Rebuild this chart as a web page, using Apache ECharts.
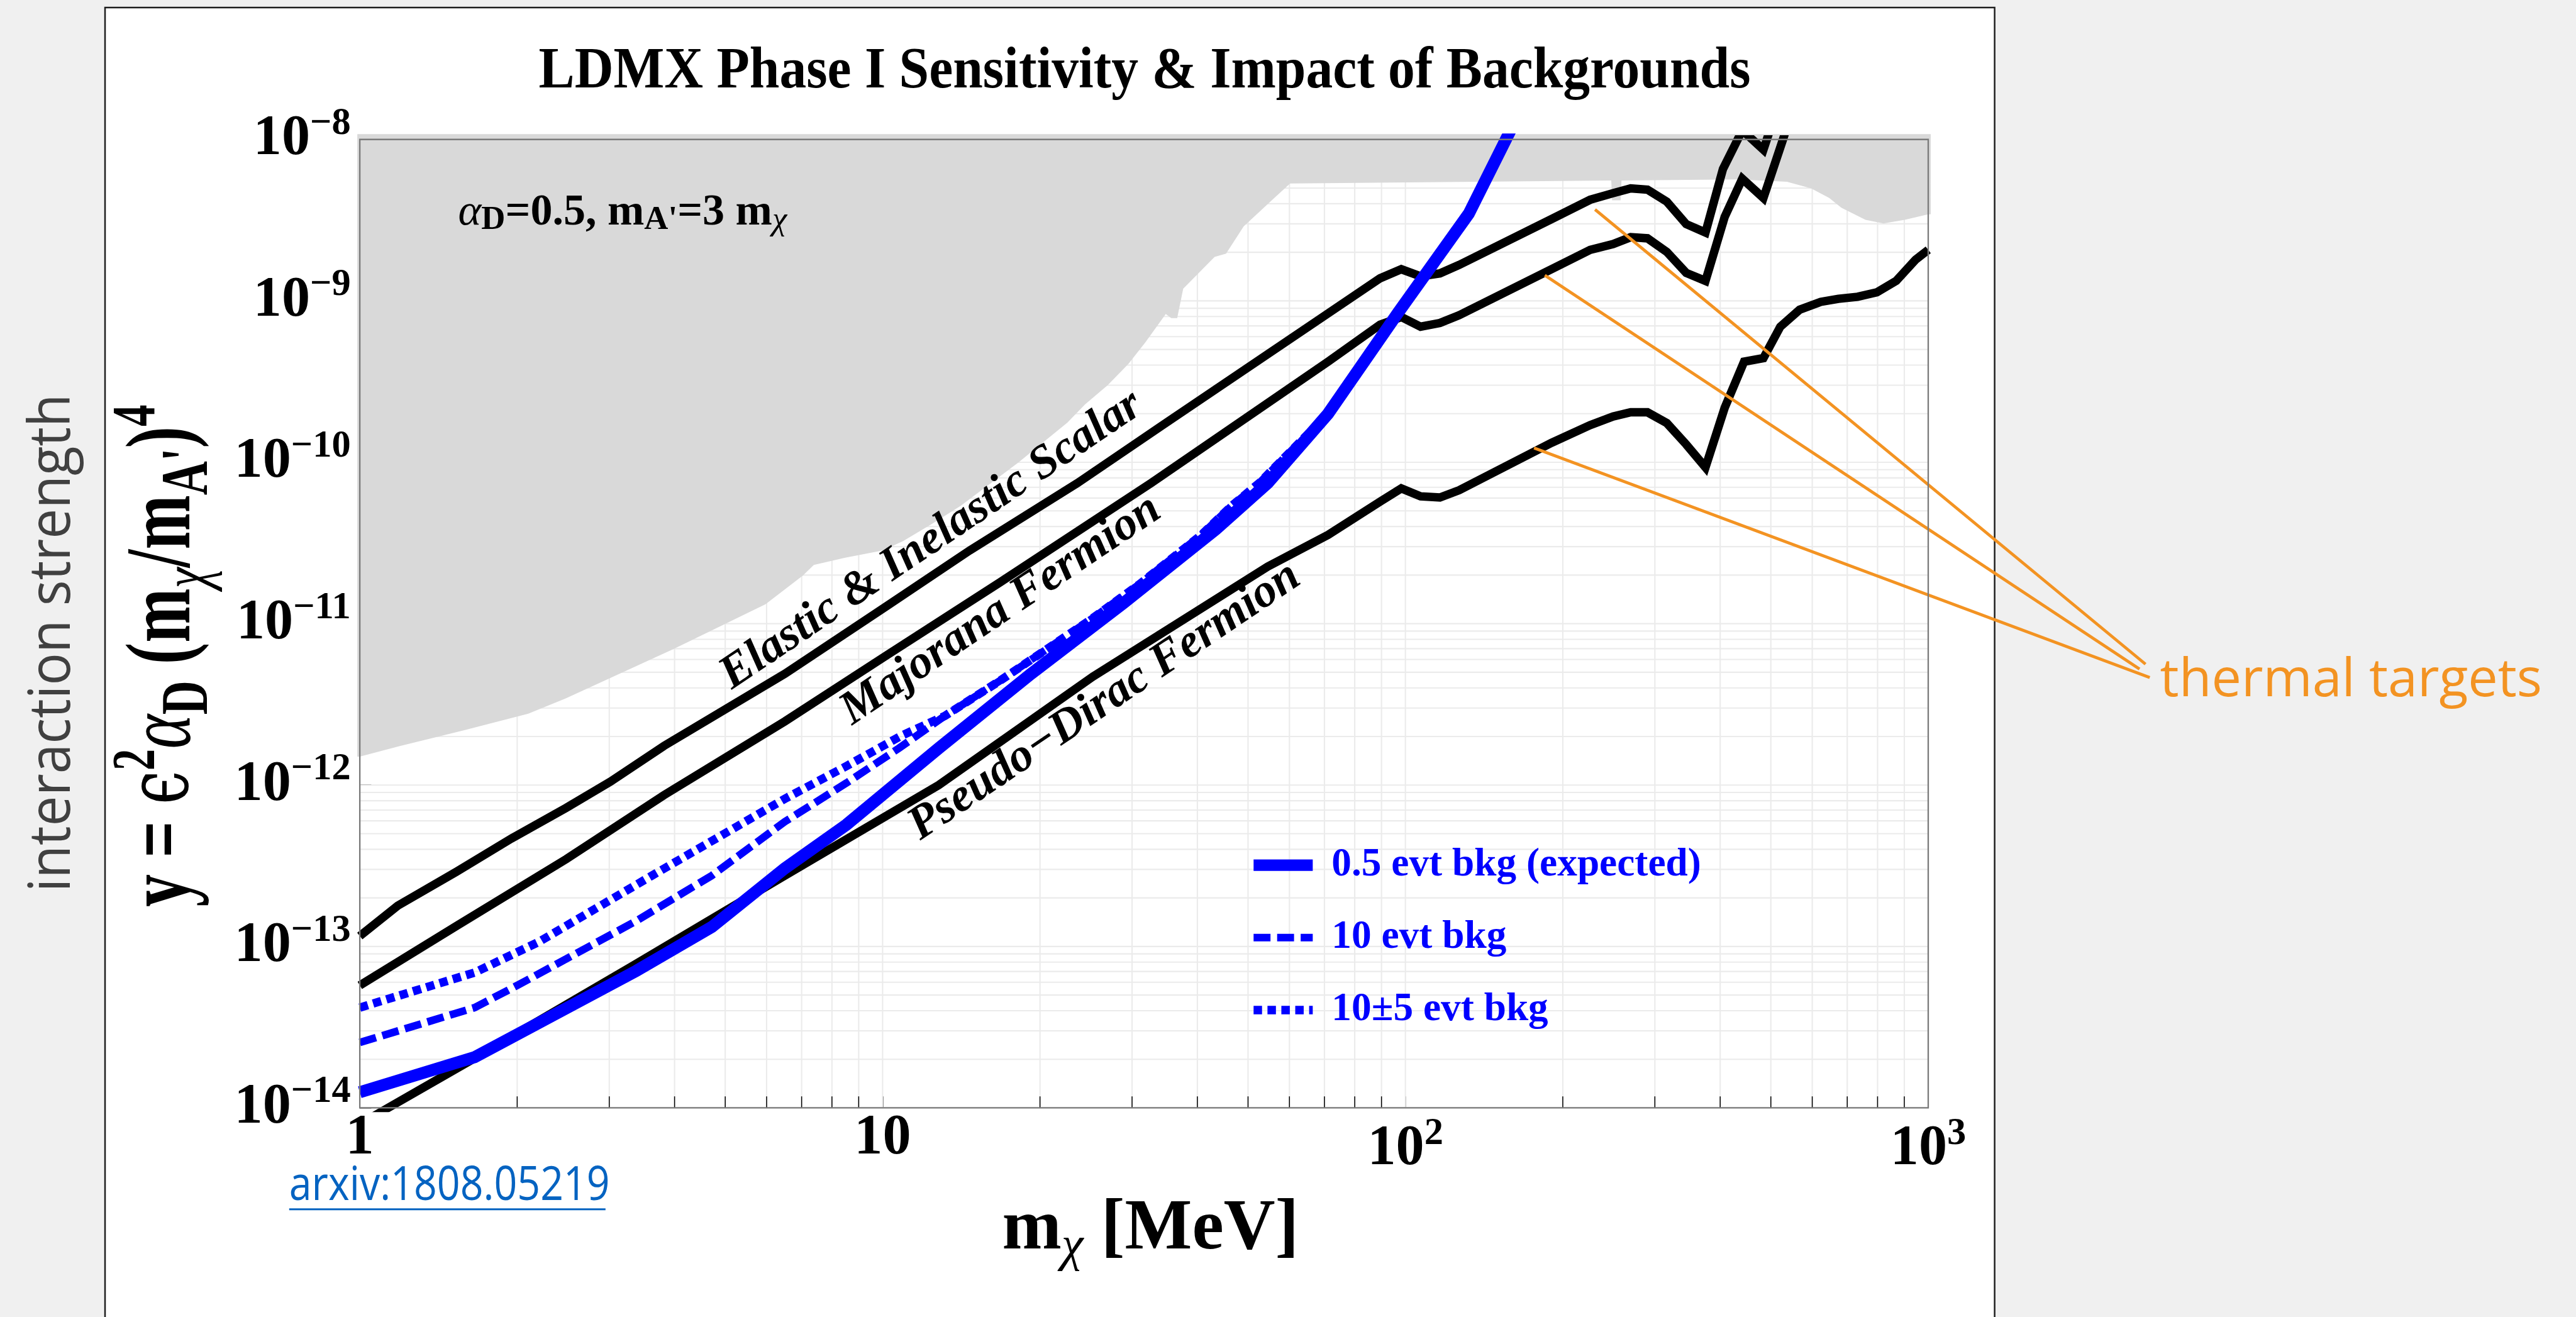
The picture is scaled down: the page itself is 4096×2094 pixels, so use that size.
<!DOCTYPE html>
<html>
<head>
<meta charset="utf-8">
<title>LDMX Phase I Sensitivity &amp; Impact of Backgrounds</title>
<script src="https://cdn.jsdelivr.net/npm/echarts@6/dist/echarts.min.js"></script>
<style>
html, body { margin: 0; padding: 0; background: #f0f0f0; }
#chart { width: 4096px; height: 2094px; }
</style>
</head>
<body>
<div id="chart"></div>
<script>
// ---- data: x = m_chi [MeV], y = eps^2 alpha_D (m_chi/m_A')^4 ----
const elasticScalar = [
  [1, 1.16e-13], [1.182, 1.79e-13], [1.530, 2.90e-13], [1.949, 4.66e-13], [2.483, 7.23e-13],
  [3.015, 1.05e-12], [3.820, 1.75e-12], [6.501, 4.89e-12], [10.16, 1.28e-11], [14.67, 2.84e-11],
  [23.60, 7.44e-11], [34.25, 1.69e-10], [71.14, 8.37e-10], [89.43, 1.38e-9], [98.2, 1.57e-9],
  [106.9, 1.42e-9], [116.4, 1.48e-9], [126.7, 1.67e-9], [190.3, 3.21e-9], [225.6, 4.23e-9],
  [249.6, 4.65e-9], [269.7, 4.98e-9], [290.4, 4.89e-9], [316.2, 4.12e-9], [344.4, 2.99e-9],
  [374.9, 2.65e-9], [404.9, 6.56e-9], [440.9, 1.14e-8], [483.9, 8.64e-9], [526.9, 1.98e-8]
];
const majoranaFermion = [
  [1, 5.74e-14], [1.543, 1.36e-13], [2.483, 3.48e-13], [3.820, 8.67e-13], [6.501, 2.48e-12],
  [10.16, 6.34e-12], [16.80, 1.81e-11], [32.65, 7.44e-11], [71.14, 4.20e-10], [89.43, 7.11e-10],
  [98.2, 7.94e-10], [106.9, 6.92e-10], [116.4, 7.29e-10], [126.7, 8.15e-10], [190.3, 1.57e-9],
  [225.6, 2.07e-9], [249.6, 2.25e-9], [269.7, 2.48e-9], [290.4, 2.44e-9], [316.2, 2.01e-9],
  [344.4, 1.49e-9], [374.9, 1.33e-9], [408.1, 3.32e-9], [440.9, 5.71e-9], [483.9, 4.34e-9],
  [526.9, 9.91e-9], [558.6, 1.77e-8]
];
const pseudoDiracFermion = [
  [1, 7.93e-15], [1.618, 1.94e-14], [3.336, 7.63e-14], [6.501, 2.75e-13], [12.80, 1.00e-12],
  [25.22, 4.69e-12], [54.54, 2.26e-11], [71.14, 3.55e-11], [89.43, 5.70e-11], [98.2, 6.89e-11],
  [106.9, 6.15e-11], [116.4, 6.05e-11], [126.7, 6.71e-11], [190.3, 1.32e-10], [225.6, 1.70e-10],
  [249.6, 1.92e-10], [269.7, 2.04e-10], [290.4, 2.04e-10], [316.2, 1.75e-10], [344.4, 1.29e-10],
  [374.9, 9.3e-11], [408.1, 2.18e-10], [444.4, 4.20e-10], [483.9, 4.42e-10], [521.3, 6.92e-10],
  [567.6, 8.81e-10], [622.9, 9.86e-10], [673.0, 1.03e-9], [732.6, 1.06e-9], [797.7, 1.13e-9],
  [868.6, 1.33e-9], [945.7, 1.80e-9], [1000, 2.07e-9]
];
const bkgExpected = [
  [1, 1.25e-14], [1.658, 2.06e-14], [3.380, 7.06e-14], [4.713, 1.32e-13], [6.501, 3.05e-13],
  [8.526, 5.68e-13], [12.80, 1.69e-12], [19.23, 4.89e-12], [28.89, 1.34e-11], [43.39, 3.84e-11],
  [54.54, 7.44e-11], [71.14, 2.00e-10], [96.6, 8.37e-10], [132.2, 3.47e-9], [162.3, 1.31e-8]
];
const bkg10 = [
  [1, 2.54e-14], [1.658, 4.18e-14], [2.002, 5.74e-14], [3.380, 1.44e-13], [4.713, 2.75e-13],
  [6.501, 5.93e-13], [8.526, 1.03e-12], [10.74, 1.69e-12], [13.15, 2.68e-12], [16.80, 4.45e-12],
  [25.22, 1.08e-11], [30.96, 1.75e-11], [40.60, 3.52e-11], [46.49, 5.36e-11], [52.55, 7.44e-11],
  [71.14, 2.00e-10], [96.6, 8.37e-10], [132.2, 3.47e-9], [162.3, 1.31e-8]
];
const bkg10pm5 = [
  [1, 4.18e-14], [1.658, 6.89e-14], [2.203, 1.07e-13], [3.622, 2.75e-13], [6.501, 8.22e-13],
  [8.526, 1.31e-12], [10.89, 2.03e-12], [13.15, 2.68e-12], [16.80, 4.45e-12], [25.22, 1.08e-11],
  [30.96, 1.75e-11], [40.60, 3.52e-11], [46.49, 5.36e-11], [52.55, 7.44e-11], [71.14, 2.00e-10],
  [96.6, 8.37e-10], [132.2, 3.47e-9], [162.3, 1.31e-8]
];
// lower edge of the region already excluded by existing experiments
const excludedEdge = [
  [1, 1.50e-12], [1.189, 1.74e-12], [1.580, 2.18e-12], [2.100, 2.77e-12], [2.476, 3.44e-12],
  [3.986, 6.97e-12], [5.970, 1.32e-11], [7.041, 1.99e-11], [7.386, 2.31e-11], [8.480, 2.56e-11],
  [10.0, 2.84e-11], [10.95, 3.25e-11], [12.41, 4.14e-11], [14.09, 5.36e-11], [18.19, 9.98e-11],
  [22.56, 1.76e-10], [24.37, 2.28e-10], [26.96, 3.01e-10], [29.51, 4.06e-10], [31.80, 5.53e-10],
  [34.80, 8.30e-10], [35.65, 7.82e-10], [36.60, 7.82e-10], [37.58, 1.19e-9], [43.15, 1.87e-9],
  [45.39, 1.96e-9], [49.04, 2.89e-9], [56.47, 4.42e-9], [60.18, 5.33e-9], [247.6, 5.57e-9],
  [248.5, 4.20e-9], [258.0, 4.20e-9], [259.0, 5.57e-9], [431.5, 5.66e-9], [536.8, 5.47e-9],
  [597.0, 4.98e-9], [646.6, 4.34e-9], [682.0, 3.78e-9], [758.6, 3.18e-9], [821.4, 3.02e-9],
  [901.6, 3.18e-9], [1000, 3.44e-9]
];
// pointers from the "thermal targets" note to the three target curves: [x1, y1, x2, y2]
const thermalPointers = [
  [230.5, 3.68e-9, 2604, 5.61e-12],
  [184.8, 1.44e-9, 2536, 5.24e-12],
  [176.2, 1.226e-10, 2653, 4.64e-12]
];

// axes
const xTickBase = ['1', '10', '10', '10'];
const xTickSup = ['', '', '2', '3'];
const yTickExponents = [-14, -13, -12, -11, -10, -9, -8];
const xMinorValues = [2, 3, 4, 5, 6, 7, 8, 9, 20, 30, 40, 50, 60, 70, 80, 90, 200, 300, 400, 500, 600, 700, 800, 900];
const xGridValues = [1, 2, 3, 4, 5, 6, 7, 8, 9, 10, 20, 30, 40, 50, 60, 70, 80, 90, 100, 200, 300, 400, 500, 600, 700, 800, 900, 1000];
const yGridMantissas = [1, 2, 3, 4, 5, 6, 7, 8, 9];

// ---- layout ----
const S = 4096 / 4267;
const P = v => v * S;
const X_MIN = 1, X_MAX = 1000, Y_MIN = 1e-14, Y_MAX = 1e-8;
const GRID = { left: P(596), top: P(231), width: P(2598), height: P(1604) };
const SERIF = '"Liberation Serif", "Times New Roman", Times, serif';
const SANS = '"Open Sans", "Noto Sans", sans-serif';
const BLUE = '#0000ff';
const ORANGE = '#f39322';

const yGridValues = [];
yTickExponents.slice(0, -1).forEach(e => yGridMantissas.forEach(m => yGridValues.push(m * Math.pow(10, e))));
yGridValues.push(Y_MAX);

const chart = echarts.init(document.getElementById('chart'), null, { renderer: 'canvas' });

const blackLine = (name, data) => ({
  name, type: 'line', data, symbol: 'none', silent: true, z: 3,
  lineStyle: { color: '#000', width: P(14), cap: 'butt', join: 'miter', miterLimit: 8 }
});
const blueLine = (name, data, width, dash) => ({
  name, type: 'line', data, symbol: 'none', silent: true, z: 4,
  itemStyle: { color: BLUE },
  lineStyle: { color: BLUE, width: P(width), type: dash ? dash.map(P) : 'solid', cap: 'butt', join: 'miter' }
});

const tickFont = { fontFamily: SERIF, fontWeight: 'bold', color: '#000' };

const option = {
  backgroundColor: '#f0f0f0',
  animation: false,
  grid: Object.assign({ containLabel: false, outerBoundsMode: 'none' }, GRID),
  xAxis: {
    type: 'log', logBase: 10, min: X_MIN, max: X_MAX, splitNumber: 3,
    axisLine: { show: false },
    axisTick: { show: true, inside: true, length: P(19), lineStyle: { color: '#000', width: P(1.6) } },
    splitLine: { show: false },
    axisLabel: {
      margin: P(12), showMinLabel: true, showMaxLabel: true, verticalAlign: 'top',
      formatter: v => {
        const i = Math.round(Math.log10(v));
        return xTickSup[i] ? '{b|' + xTickBase[i] + '}{s|' + xTickSup[i] + '}' : '{p|' + xTickBase[i] + '}';
      },
      rich: {
        p: Object.assign({ fontSize: P(94), lineHeight: P(78), verticalAlign: 'middle' }, tickFont),
        b: Object.assign({ fontSize: P(94), lineHeight: P(114), verticalAlign: 'middle' }, tickFont),
        s: Object.assign({ fontSize: P(63), lineHeight: P(63), verticalAlign: 'top' }, tickFont)
      }
    }
  },
  yAxis: {
    type: 'log', logBase: 10, min: Y_MIN, max: Y_MAX, splitNumber: 6,
    axisLine: { show: false },
    axisTick: { show: true, inside: true, length: P(19), lineStyle: { color: '#000', width: P(1.6) } },
    splitLine: { show: false },
    axisLabel: {
      margin: P(15), showMinLabel: true, showMaxLabel: true,
      formatter: v => {
        const e = Math.round(Math.log10(v));
        return yTickExponents.indexOf(e) >= 0 ? '{b|10}{s|\u2212' + (-e) + '}' : '';
      },
      rich: {
        b: Object.assign({ fontSize: P(94), lineHeight: P(114), verticalAlign: 'middle' }, tickFont),
        s: Object.assign({ fontSize: P(63), lineHeight: P(63), verticalAlign: 'top' }, tickFont)
      }
    }
  },
  legend: {
    orient: 'vertical', left: P(2067), top: P(1398), padding: 0,
    itemWidth: P(98), itemHeight: P(20), itemGap: P(50),
    selectedMode: false,
    textStyle: { fontFamily: SERIF, fontWeight: 'bold', fontSize: P(66), lineHeight: P(70), color: BLUE, padding: [0, 0, 0, P(26)] },
    data: [
      { name: '0.5 evt bkg (expected)', itemStyle: { opacity: 0 }, lineStyle: { width: P(19), type: 'solid', cap: 'butt' } },
      { name: '10 evt bkg', itemStyle: { opacity: 0 }, lineStyle: { width: P(12.6), type: [28, 11].map(P), cap: 'butt' } },
      { name: '10\u00b15 evt bkg', itemStyle: { opacity: 0 }, lineStyle: { width: P(14), type: [14, 9].map(P), cap: 'butt' } }
    ]
  },
  series: [
    { // vertical grid lines
      type: 'custom', silent: true, z: 1,
      data: xGridValues.map(x => [x, Y_MIN]),
      renderItem: (params, api) => {
        const a = api.coord([api.value(0), Y_MIN]), b = api.coord([api.value(0), Y_MAX]);
        return { type: 'line', shape: { x1: a[0], y1: a[1], x2: b[0], y2: b[1] }, style: { stroke: '#ebebeb', lineWidth: P(2.2) } };
      }
    },
    { // horizontal grid lines
      type: 'custom', silent: true, z: 1,
      data: yGridValues.map(y => [X_MIN, y]),
      renderItem: (params, api) => {
        const a = api.coord([X_MIN, api.value(1)]), b = api.coord([X_MAX, api.value(1)]);
        return { type: 'line', shape: { x1: a[0], y1: a[1], x2: b[0], y2: b[1] }, style: { stroke: '#ebebeb', lineWidth: P(2.2) } };
      }
    },
    { // excluded region, filled up to the top of the frame (plus the plot-range padding)
      type: 'custom', silent: true, z: 2, clip: false,
      data: [[X_MIN, Y_MAX]],
      renderItem: (params, api) => {
        const padX = 1.011, padY = 1.08;
        const pts = [api.coord([X_MIN / padX, excludedEdge[0][1]])];
        excludedEdge.forEach(p => pts.push(api.coord(p)));
        pts.push(api.coord([X_MAX * padX, excludedEdge[excludedEdge.length - 1][1]]));
        pts.push(api.coord([X_MAX * padX, Y_MAX * padY]));
        pts.push(api.coord([X_MIN / padX, Y_MAX * padY]));
        return { type: 'polygon', shape: { points: pts }, style: { fill: '#d9d9d9' } };
      }
    },
    blackLine('Elastic & Inelastic Scalar', elasticScalar),
    blackLine('Majorana Fermion', majoranaFermion),
    blackLine('Pseudo\u2212Dirac Fermion', pseudoDiracFermion),
    blueLine('10\u00b15 evt bkg', bkg10pm5, 14, [14, 9]),
    blueLine('10 evt bkg', bkg10, 12.6, [28, 11]),
    blueLine('0.5 evt bkg (expected)', bkgExpected, 20, null),
    { // pointer lines, allowed to leave the frame
      type: 'custom', silent: true, z: 6, clip: false,
      encode: { x: [0, 2], y: [1, 3] },
      data: thermalPointers,
      renderItem: (params, api) => {
        const a = api.coord([api.value(0), api.value(1)]), b = api.coord([api.value(2), api.value(3)]);
        return { type: 'line', shape: { x1: a[0], y1: a[1], x2: b[0], y2: b[1] }, style: { stroke: ORANGE, lineWidth: P(5) } };
      }
    },
    { // minor ticks on the mass axis
      type: 'custom', silent: true, z: 8,
      data: xMinorValues.map(x => [x, Y_MIN]),
      renderItem: (params, api) => {
        const a = api.coord([api.value(0), Y_MIN]);
        return { type: 'line', shape: { x1: a[0], y1: a[1], x2: a[0], y2: a[1] - P(19) }, style: { stroke: '#000', lineWidth: P(1.6) } };
      }
    }
  ],
  graphic: [
    { type: 'rect', z: -10, silent: true,
      shape: { x: P(174), y: P(12.5), width: P(3130), height: P(2300) },
      style: { fill: '#ffffff', stroke: '#1e1e1e', lineWidth: P(2.6) } },
    { type: 'rect', z: 60, silent: true,
      shape: { x: GRID.left, y: GRID.top, width: GRID.width, height: GRID.height },
      style: { fill: 'none', stroke: '#7a7a7a', lineWidth: P(2.4) } },
    { type: 'text', z: 50, silent: true, x: P(1896), y: P(119), scaleX: 0.91,
      style: { text: 'LDMX Phase I Sensitivity & Impact of Backgrounds', fontFamily: SERIF, fontWeight: 'bold',
               fontSize: P(98), fill: '#000', align: 'center', verticalAlign: 'middle' } },
    { type: 'text', z: 50, silent: true, x: P(1660), y: P(2037),
      style: { text: '{m|m}{c|\u03c7}{m| [MeV]}', align: 'left', verticalAlign: 'middle',
               rich: {
                 m: { fontFamily: SERIF, fontWeight: 'bold', fontSize: P(118), lineHeight: P(140), fill: '#000', verticalAlign: 'middle' },
                 c: { fontFamily: SERIF, fontStyle: 'italic', fontSize: P(82), lineHeight: P(82), fill: '#000', verticalAlign: 'bottom' }
               } } },
    { type: 'text', z: 50, silent: true, x: P(274), y: P(1086), rotation: Math.PI / 2, scaleY: 1.42,
      style: { text: '{i|y = }{e|\u03f5}{p|2}{g|\u03b1}{d|D}{i| (m}{c|\u03c7}{i|/m}{d|A\'}{i|)}{p|4}',
               align: 'center', verticalAlign: 'middle',
               rich: {
                 i: { fontFamily: SERIF, fontWeight: 'bold', fontSize: P(108), lineHeight: P(135), fill: '#000', verticalAlign: 'middle' },
                 e: { fontFamily: '"DejaVu Serif", serif', fontSize: P(100), lineHeight: P(135), fill: '#000', verticalAlign: 'middle' },
                 g: { fontFamily: SERIF, fontStyle: 'italic', fontSize: P(108), lineHeight: P(135), fill: '#000', verticalAlign: 'middle' },
                 p: { fontFamily: SERIF, fontWeight: 'bold', fontSize: P(72), lineHeight: P(72), fill: '#000', verticalAlign: 'top' },
                 d: { fontFamily: SERIF, fontWeight: 'bold', fontSize: P(78), lineHeight: P(91), fill: '#000', verticalAlign: 'bottom' },
                 c: { fontFamily: SERIF, fontStyle: 'italic', fontSize: P(78), lineHeight: P(91), fill: '#000', verticalAlign: 'bottom' }
               } } },
    { type: 'text', z: 50, silent: true, x: P(759), y: P(353),
      style: { text: '{g|\u03b1}{d|D}{b|=0.5, m}{d|A\'}{b|=3 m}{c|\u03c7}', align: 'left', verticalAlign: 'middle',
               rich: {
                 b: { fontFamily: SERIF, fontWeight: 'bold', fontSize: P(73), lineHeight: P(80), fill: '#000', verticalAlign: 'middle' },
                 g: { fontFamily: SERIF, fontStyle: 'italic', fontSize: P(73), lineHeight: P(80), fill: '#000', verticalAlign: 'middle' },
                 d: { fontFamily: SERIF, fontWeight: 'bold', fontSize: P(55), lineHeight: P(51), fill: '#000', verticalAlign: 'bottom' },
                 c: { fontFamily: SERIF, fontStyle: 'italic', fontSize: P(55), lineHeight: P(51), fill: '#000', verticalAlign: 'bottom' }
               } } },
    { type: 'text', z: 50, silent: true, x: P(1543), y: P(895), rotation: 34 * Math.PI / 180,
      style: { text: 'Elastic & Inelastic Scalar', fontFamily: SERIF, fontWeight: 'bold', fontStyle: 'italic',
               fontSize: P(78), fill: '#000', align: 'center', verticalAlign: 'middle' } },
    { type: 'text', z: 50, silent: true, x: P(1658), y: P(1011), rotation: 34 * Math.PI / 180,
      style: { text: 'Majorana Fermion', fontFamily: SERIF, fontWeight: 'bold', fontStyle: 'italic',
               fontSize: P(78), fill: '#000', align: 'center', verticalAlign: 'middle' } },
    { type: 'text', z: 50, silent: true, x: P(1830), y: P(1162), rotation: 34 * Math.PI / 180,
      style: { text: 'Pseudo\u2212Dirac Fermion', fontFamily: SERIF, fontWeight: 'bold', fontStyle: 'italic',
               fontSize: P(78), fill: '#000', align: 'center', verticalAlign: 'middle' } },
    { type: 'text', z: 50, silent: true, x: P(88), y: P(1065), rotation: Math.PI / 2, scaleX: 0.93,
      style: { text: 'interaction strength', fontFamily: SANS, fontSize: P(96), fill: '#404040',
               align: 'center', verticalAlign: 'middle' } },
    { type: 'text', z: 50, silent: true, x: P(3578), y: P(1128),
      style: { text: 'thermal targets', fontFamily: SANS, fontSize: P(88), fill: ORANGE,
               align: 'left', verticalAlign: 'middle' } },
    { type: 'text', z: 50, silent: true, x: P(479), y: P(1965), scaleX: 0.85,
      style: { text: 'arxiv:1808.05219', fontFamily: SANS, fontSize: P(79), fill: '#0563c1',
               align: 'left', verticalAlign: 'middle' } },
    { type: 'line', z: 50, silent: true,
      shape: { x1: P(479), y1: P(2003), x2: P(1003), y2: P(2003) },
      style: { stroke: '#0563c1', lineWidth: P(3) } }
  ]
};

chart.setOption(option);
</script>
</body>
</html>
